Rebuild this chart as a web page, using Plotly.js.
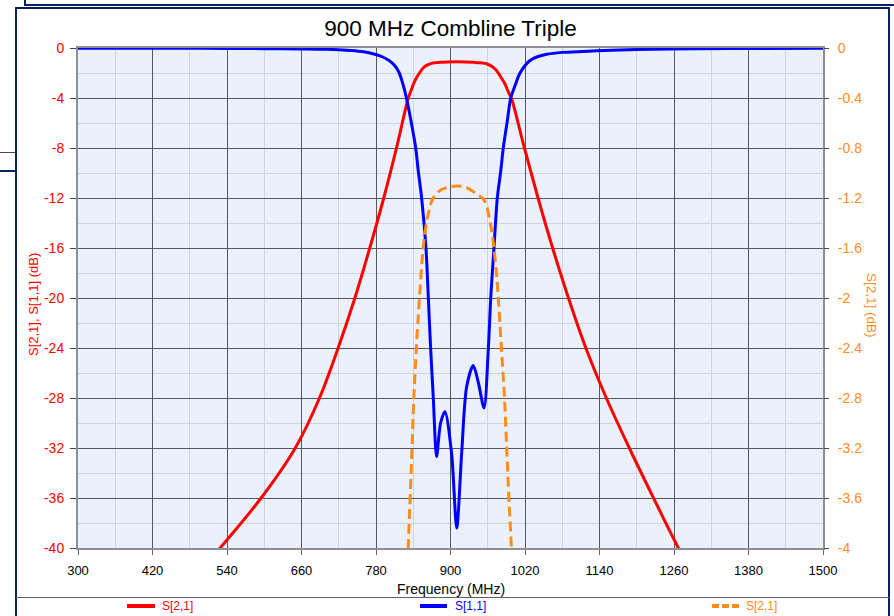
<!DOCTYPE html>
<html>
<head>
<meta charset="utf-8">
<script src="https://cdn.plot.ly/plotly-3.0.1.min.js"></script>
<style>
  html, body { margin: 0; padding: 0; background: #ffffff; }
  #wrap { position: relative; width: 894px; height: 616px; overflow: hidden; }
  #chart { position: absolute; left: 0; top: 0; width: 894px; height: 616px; }
  .ln { position: absolute; pointer-events: none; }
</style>
</head>
<body>
<div id="wrap">
  <div id="chart"></div>
  <!-- window frame artifacts -->
  <div class="ln" style="left:24px;top:0px;width:2px;height:6px;background:#0b2360;"></div>
  <div class="ln" style="left:24px;top:4px;width:870px;height:2px;background:#0b2360;"></div>
  <div class="ln" style="left:15px;top:7px;width:875px;height:2px;background:#0b2360;"></div>
  <div class="ln" style="left:15px;top:7px;width:2px;height:609px;background:#0b2360;"></div>
  <div class="ln" style="left:888px;top:7px;width:2px;height:609px;background:#0b2360;"></div>
  <div class="ln" style="left:0px;top:152px;width:15px;height:1px;background:#444a55;"></div>
  <div class="ln" style="left:0px;top:170px;width:15px;height:2px;background:#0b2360;"></div>
  <div class="ln" style="left:16px;top:597px;width:873px;height:1px;background:#5a6070;"></div>
</div>
<script>
// ---------------- data ----------------
// S[2,1] (dB) vs frequency (MHz)
const freqS21 = [300, 400, 460, 529, 595, 650, 689, 719, 746, 770, 792.5, 813,
  832, 835, 838, 841, 845, 850, 856, 861, 866, 871, 877, 883, 895, 910, 925, 937, 946, 953, 958, 963, 967, 970, 974, 977, 982, 987, 990.5, 994, 998,
  1019, 1041, 1064.5, 1090, 1118, 1151, 1188, 1227, 1267, 1310, 1355, 1500];
const s21 = [-53, -47.5, -44, -40, -36, -32, -28, -24, -20, -16, -12, -8,
  -4, -3.6, -3.2, -2.8, -2.4, -2.0, -1.6, -1.41, -1.29, -1.21, -1.17, -1.14, -1.115, -1.104, -1.115, -1.15, -1.18, -1.21, -1.26, -1.37, -1.48, -1.6, -1.8, -2.0, -2.4, -2.8, -3.2, -3.6, -4,
  -8, -12, -16, -20, -24, -28, -32, -36, -40, -44, -48, -60];

// S[1,1] (dB) vs frequency (MHz)
const freqS11 = [300, 500, 600, 660, 700, 740, 760, 778, 790, 801, 810, 817.5, 824, 829, 837, 844, 848, 853.5, 860.5, 864.3, 868, 872.3,
  877.6, 884, 891, 901.7, 910, 918, 926, 936.7, 945, 954, 961, 964.8, 970, 975.4, 981, 985, 991, 997, 1004, 1012, 1028, 1040, 1055, 1080,
  1114, 1135, 1200, 1300, 1400, 1500];
const s11 = [-0.01, -0.02, -0.05, -0.07, -0.1, -0.2, -0.3, -0.5, -0.7, -1.0, -1.4, -2.0, -3.0, -4, -6, -8, -9.8, -12, -16, -20, -24, -28,
  -32.7, -30, -29.1, -32.4, -38.4, -32.4, -27.1, -25.4, -26.8, -28.8, -24, -20, -16, -12, -9.8, -8, -6, -4, -3, -2, -1, -0.7, -0.5, -0.35,
  -0.27, -0.22, -0.12, -0.06, -0.03, -0.02];

// tick labels
const xTicks = [300, 420, 540, 660, 780, 900, 1020, 1140, 1260, 1380, 1500];
const xTickText = ['300', '420', '540', '660', '780', '900', '1020', '1140', '1260', '1380', '1500'];
const yTicks = [0, -4, -8, -12, -16, -20, -24, -28, -32, -36, -40];
const yTickText = ['0', '-4', '-8', '-12', '-16', '-20', '-24', '-28', '-32', '-36', '-40'];
const y2Ticks = [0, -0.4, -0.8, -1.2, -1.6, -2, -2.4, -2.8, -3.2, -3.6, -4];
const y2TickText = ['0', '-0.4', '-0.8', '-1.2', '-1.6', '-2', '-2.4', '-2.8', '-3.2', '-3.6', '-4'];

const seriesNames = ['S[2,1]', 'S[1,1]', 'S[2,1]'];
const RED = '#FF0000', BLUE = '#0000FF', ORANGE = '#FF8C1A';
const FONT = 'Arial, "Liberation Sans", sans-serif';

// ---------------- traces ----------------
const traces = [
  { x: freqS21, y: s21, type: 'scatter', mode: 'lines', name: seriesNames[0], yaxis: 'y',
    line: { color: RED, width: 3, shape: 'spline', smoothing: 1 } },
  { x: freqS11, y: s11, type: 'scatter', mode: 'lines', name: seriesNames[1], yaxis: 'y',
    line: { color: BLUE, width: 3, shape: 'spline', smoothing: 0.8 } },
  { x: freqS21, y: s21, type: 'scatter', mode: 'lines', name: seriesNames[2], yaxis: 'y2',
    line: { color: ORANGE, width: 3, dash: '10px,5px', shape: 'spline', smoothing: 1 } }
];

// plot area in pixels: x 78..823, y 48..548
const L = 78, R = 823, T = 48, B = 548;
const px = v => (v - L) / (R - L);
const py = v => (B - v) / (B - T);

const legY = py(606);
const legend = [
  { x0: 127, x1: 155, tx: 160, color: RED, dash: 'solid', text: seriesNames[0] },
  { x0: 420, x1: 447, tx: 453, color: BLUE, dash: 'solid', text: seriesNames[1] },
  { x0: 712, x1: 739, tx: 744, color: ORANGE, dash: '7px,3px', text: seriesNames[2] }
];

const shapes = legend.map(l => ({
  type: 'line', xref: 'paper', yref: 'paper', x0: px(l.x0), x1: px(l.x1), y0: legY, y1: legY,
  line: { color: l.color, width: 4, dash: l.dash }
}));

const annotations = legend.map(l => ({
  xref: 'paper', yref: 'paper', x: px(l.tx), y: legY, xanchor: 'left', yanchor: 'middle',
  text: l.text, showarrow: false, font: { family: FONT, size: 12, color: l.color }
}));
annotations.push(
  { xref: 'paper', yref: 'paper', x: px(33), y: py(305), textangle: -90, text: 'S[2,1], S[1,1] (dB)',
    showarrow: false, xanchor: 'center', yanchor: 'middle', font: { family: FONT, size: 13, color: RED } },
  { xref: 'paper', yref: 'paper', x: px(872), y: py(305), textangle: 90, text: 'S[2,1] (dB)',
    showarrow: false, xanchor: 'center', yanchor: 'middle', font: { family: FONT, size: 13.5, color: ORANGE } },
  { xref: 'paper', yref: 'paper', x: px(451), y: py(589), text: 'Frequency (MHz)',
    showarrow: false, xanchor: 'center', yanchor: 'middle', font: { family: FONT, size: 14, color: '#000' } }
);

const layout = {
  width: 894, height: 616,
  margin: { l: L, r: 894 - R, t: T, b: 616 - B, pad: 0 },
  paper_bgcolor: '#ffffff',
  plot_bgcolor: '#EBF1FC',
  showlegend: false,
  font: { family: FONT },
  title: { text: '900 MHz Combline Triple', x: 0.5, xref: 'paper', xanchor: 'center',
    y: 1 - 28 / 616, yref: 'container', yanchor: 'middle',
    font: { family: FONT, size: 22.5, color: '#000' } },
  xaxis: {
    range: [300, 1500], tickmode: 'array', tickvals: xTicks, ticktext: xTickText,
    showgrid: true, gridcolor: '#55585f', gridwidth: 1,
    minor: { dtick: 60, tick0: 300, showgrid: true, gridcolor: '#cfd3da', gridwidth: 1, ticks: '' },
    ticks: 'outside', ticklen: 5, tickcolor: '#666', tickwidth: 1, ticklabelstandoff: 4,
    showline: true, linecolor: '#8c8f96', linewidth: 2, mirror: true, zeroline: false,
    tickfont: { family: FONT, size: 13, color: '#000' }
  },
  yaxis: {
    range: [-40, 0], tickmode: 'array', tickvals: yTicks, ticktext: yTickText,
    showgrid: true, gridcolor: '#55585f', gridwidth: 1,
    minor: { dtick: 2, tick0: 0, showgrid: true, gridcolor: '#cfd3da', gridwidth: 1, ticks: '' },
    ticks: 'outside', ticklen: 6, tickcolor: '#444', tickwidth: 1, ticklabelstandoff: 3,
    showline: true, linecolor: '#8c8f96', linewidth: 2, mirror: true, zeroline: false,
    tickfont: { family: FONT, size: 14, color: RED }
  },
  yaxis2: {
    range: [-4, 0], overlaying: 'y', side: 'right', tickmode: 'array', tickvals: y2Ticks, ticktext: y2TickText,
    showgrid: false, zeroline: false, showline: false,
    ticks: 'outside', ticklen: 5, tickcolor: '#444', tickwidth: 1, ticklabelstandoff: 6,
    tickfont: { family: FONT, size: 14, color: ORANGE }
  },
  shapes: shapes,
  annotations: annotations
};

Plotly.newPlot('chart', traces, layout, { staticPlot: true, displayModeBar: false });
</script>
</body>
</html>
